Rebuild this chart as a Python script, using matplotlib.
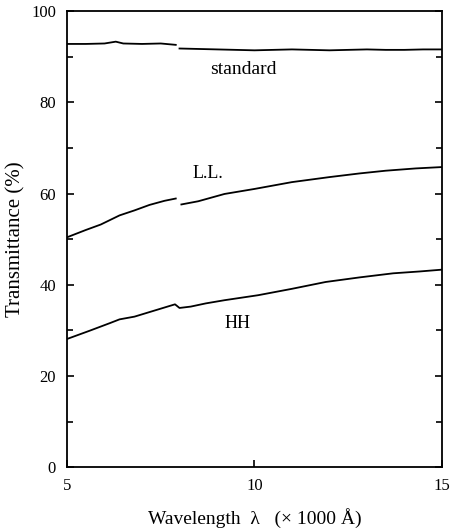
import numpy as np
import matplotlib.pyplot as plt
from matplotlib.ticker import MultipleLocator

plt.rcParams['font.family'] = ['Liberation Serif', 'DejaVu Serif']

# standard sample (two segments, small break near 8)
std_wl_a = [5.0, 5.5, 6.0, 6.3, 6.5, 7.0, 7.5, 7.9]
std_tr_a = [92.8, 92.8, 92.9, 93.3, 92.9, 92.8, 92.9, 92.6]
std_wl_b = [8.0, 8.5, 9.0, 9.5, 10.0, 10.5, 11.0, 11.5, 12.0, 12.5, 13.0, 13.5, 14.0, 14.5, 15.0]
std_tr_b = [91.8, 91.7, 91.6, 91.5, 91.4, 91.5, 91.6, 91.5, 91.4, 91.5, 91.6, 91.5, 91.5, 91.6, 91.6]

# L.L. sample
ll_wl_a = [5.0, 5.5, 5.9, 6.4, 6.8, 7.2, 7.6, 7.9]
ll_tr_a = [50.4, 52.0, 53.2, 55.2, 56.3, 57.5, 58.4, 58.9]
ll_wl_b = [8.05, 8.5, 9.2, 10.0, 11.0, 12.0, 12.8, 13.5, 14.3, 15.0]
ll_tr_b = [57.6, 58.3, 59.9, 61.0, 62.5, 63.6, 64.4, 65.0, 65.5, 65.8]

# H.H. sample
hh_wl = [5.0, 5.6, 6.15, 6.4, 6.8, 7.2, 7.6, 7.88, 8.0, 8.3, 8.7, 9.2, 10.1, 11.0, 11.9, 12.8, 13.7, 14.4, 15.0]
hh_tr = [28.1, 29.9, 31.6, 32.4, 33.0, 34.0, 35.0, 35.7, 34.9, 35.2, 35.9, 36.6, 37.7, 39.1, 40.6, 41.6, 42.5, 42.9, 43.3]

fig = plt.figure(figsize=(4.5, 5.29), dpi=100)
ax = fig.add_axes([0.149, 0.117, 0.833, 0.862])

lw = 1.3
ax.plot(std_wl_a, std_tr_a, color='black', lw=lw)
ax.plot(std_wl_b, std_tr_b, color='black', lw=lw)
ax.plot(ll_wl_a, ll_tr_a, color='black', lw=lw)
ax.plot(ll_wl_b, ll_tr_b, color='black', lw=lw)
ax.plot(hh_wl, hh_tr, color='black', lw=lw)

ax.text(9.7, 87.3, 'standard', fontsize=14, ha='center', va='center')
ax.text(8.75, 64.4, 'L.L.', fontsize=13, ha='center', va='center')
ax.text(9.55, 31.5, 'HH', fontsize=13, ha='center', va='center')

ax.set_xlim(5, 15)
ax.set_ylim(0, 100)
ax.set_xticks([5, 10, 15])
ax.set_yticks([0, 20, 40, 60, 80, 100])
ax.yaxis.set_minor_locator(MultipleLocator(10))
ax.tick_params(which='both', direction='in', right=True, labelsize=12, width=1.2)
ax.tick_params(which='major', length=5, pad=8)
ax.tick_params(which='minor', length=4)
ax.tick_params(axis='x', pad=8)
for s in ax.spines.values():
    s.set_linewidth(1.3)

ax.set_xlabel('Wavelength  λ   (× 1000 Å)', fontsize=14, labelpad=10)
ax.set_ylabel('Transmittance (%)', fontsize=15, labelpad=4)

fig.savefig('out.png', dpi=100)
